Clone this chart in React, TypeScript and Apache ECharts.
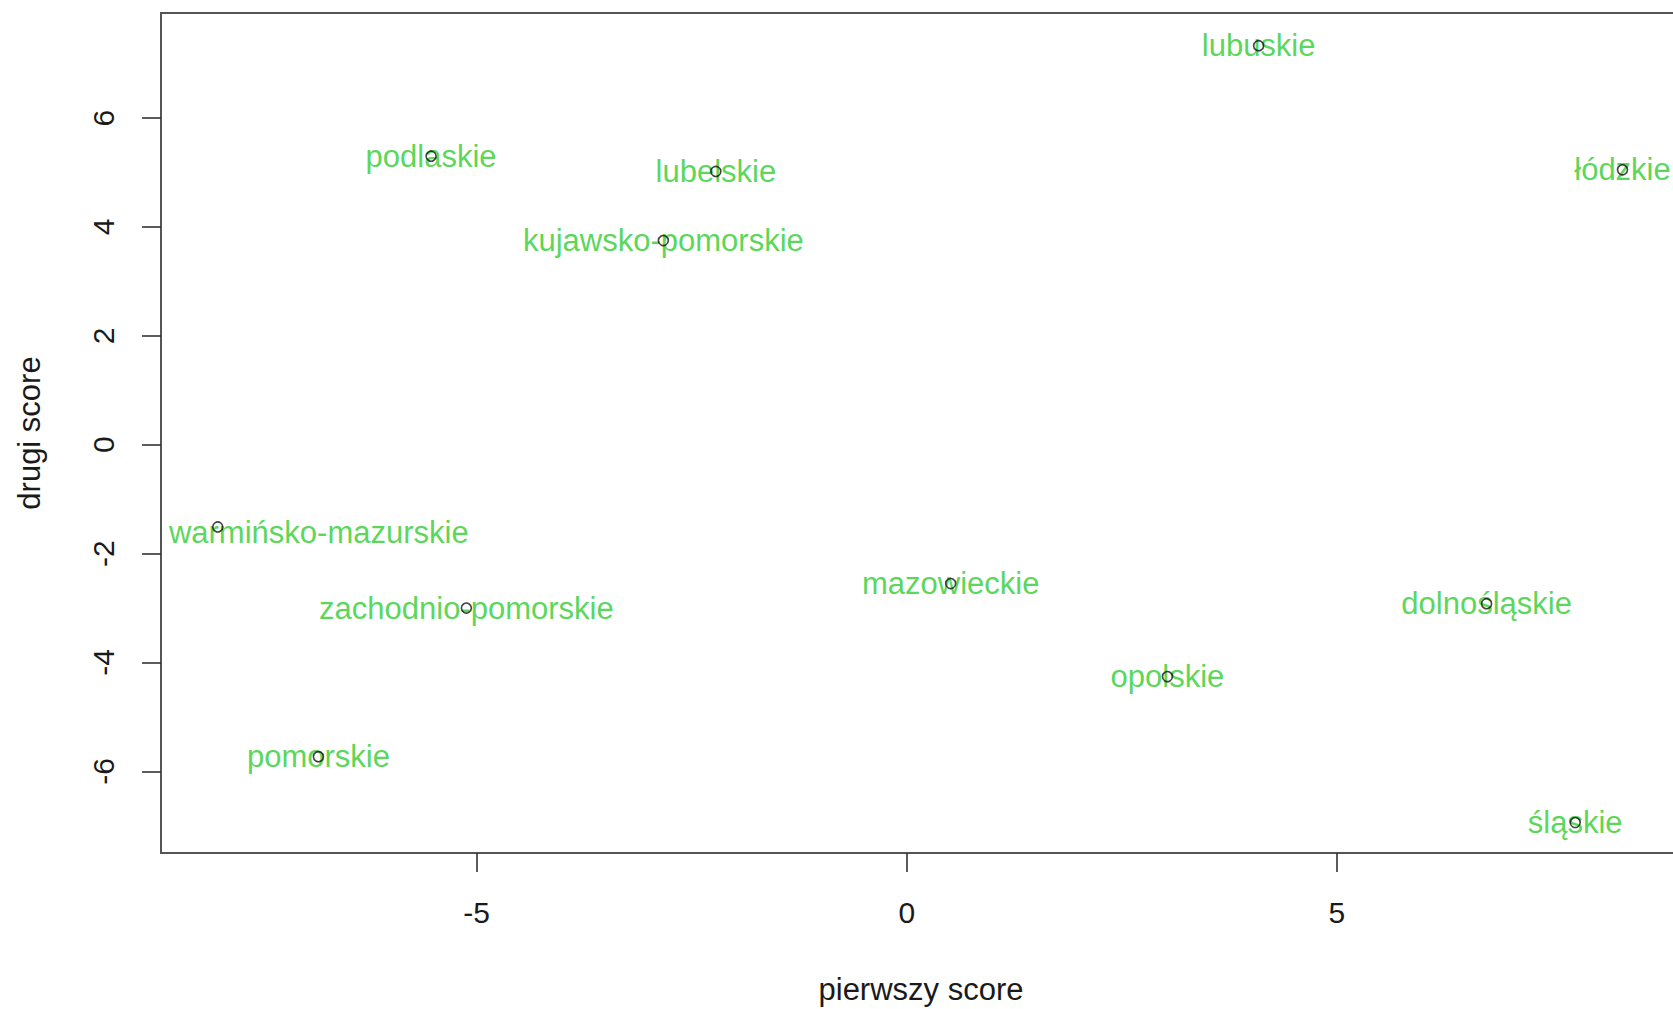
import React, { useEffect, useRef } from "react";
import * as echarts from "echarts";

// Region names and their scores on the first two components
const regionNames = [
  "lubuskie",
  "podlaskie",
  "lubelskie",
  "łódzkie",
  "kujawsko-pomorskie",
  "warmińsko-mazurskie",
  "mazowieckie",
  "zachodnio-pomorskie",
  "dolnośląskie",
  "opolskie",
  "pomorskie",
  "śląskie",
];
const firstScore = [4.09, -5.53, -2.22, 8.32, -2.83, -8.01, 0.51, -5.12, 6.74, 3.03, -6.84, 7.77];
const secondScore = [7.33, 5.3, 5.02, 5.05, 3.75, -1.51, -2.55, -3.0, -2.92, -4.26, -5.73, -6.94];

const xTicks = [-5, 0, 5];
const yTicks = [-6, -4, -2, 0, 2, 4, 6];

const FONT = "'Liberation Sans', Arial, Helvetica, sans-serif";
const LABEL_GREEN = "#2ecc2e";
const AXIS_TEXT = "#1a1a1a";

export default function App() {
  const ref = useRef<HTMLDivElement>(null);

  useEffect(() => {
    if (!ref.current) return;
    const chart = echarts.init(ref.current, undefined, { renderer: "svg" });

    const points = regionNames.map((name, i) => {
      const item: any = { name, value: [firstScore[i], secondScore[i]] };
      // this one label sits to the right of its point, as in the original plot
      if (name === "warmińsko-mazurskie") {
        item.label = { offset: [101, 6] };
      }
      return item;
    });

    chart.setOption({
      animation: false,
      backgroundColor: "#ffffff",
      grid: {
        left: 161,
        top: 13,
        width: 1520,
        height: 840,
        show: true,
        borderColor: "#555555",
        borderWidth: 2,
        backgroundColor: "transparent",
        containLabel: false,
        outerBoundsMode: "none",
      },
      xAxis: {
        type: "value",
        min: -8.67,
        max: 9.0,
        splitLine: { show: false },
        axisLine: { show: false, onZero: false },
        axisTick: {
          show: true,
          inside: false,
          length: 19,
          customValues: xTicks,
          lineStyle: { color: "#333333", width: 1.6 },
        },
        axisLabel: {
          show: true,
          customValues: xTicks,
          margin: 44,
          fontSize: 30,
          fontFamily: FONT,
          color: AXIS_TEXT,
          formatter: (v: number) => String(v),
        },
        name: "pierwszy score",
        nameLocation: "middle",
        nameGap: 121,
        nameTextStyle: { fontSize: 31, fontFamily: FONT, color: AXIS_TEXT },
      },
      yAxis: {
        type: "value",
        min: -7.5,
        max: 7.93,
        splitLine: { show: false },
        axisLine: { show: false, onZero: false },
        axisTick: {
          show: true,
          inside: false,
          length: 19,
          customValues: yTicks,
          lineStyle: { color: "#333333", width: 1.6 },
        },
        axisLabel: {
          show: true,
          customValues: yTicks,
          rotate: 90,
          margin: 43,
          fontSize: 30,
          fontFamily: FONT,
          color: AXIS_TEXT,
          formatter: (v: number) => String(v),
        },
        name: "drugi score",
        nameLocation: "middle",
        nameRotate: 90,
        nameGap: 116,
        nameTextStyle: { fontSize: 31, fontFamily: FONT, color: AXIS_TEXT },
      },
      series: [
        {
          // region names, centred on each point
          type: "scatter",
          data: points,
          symbolSize: 1,
          itemStyle: { color: "rgba(0,0,0,0)" },
          z: 2,
          silent: true,
          label: {
            show: true,
            position: "inside",
            formatter: (p: any) => p.name,
            color: LABEL_GREEN,
            fontSize: 31,
            fontFamily: FONT,
          },
          emphasis: { disabled: true },
        },
        {
          // open circle markers drawn over the names
          type: "scatter",
          data: regionNames.map((name, i) => ({ name, value: [firstScore[i], secondScore[i]] })),
          symbol: "circle",
          symbolSize: 10,
          itemStyle: {
            color: "rgba(0,0,0,0)",
            borderColor: "#111111",
            borderWidth: 1.6,
          },
          z: 3,
          silent: true,
          emphasis: { disabled: true },
        },
      ],
    });

    return () => chart.dispose();
  }, []);

  return (
    <div
      ref={ref}
      style={{
        position: "fixed",
        left: 0,
        top: 0,
        width: 1673,
        height: 1009,
        background: "#ffffff",
      }}
    />
  );
}
